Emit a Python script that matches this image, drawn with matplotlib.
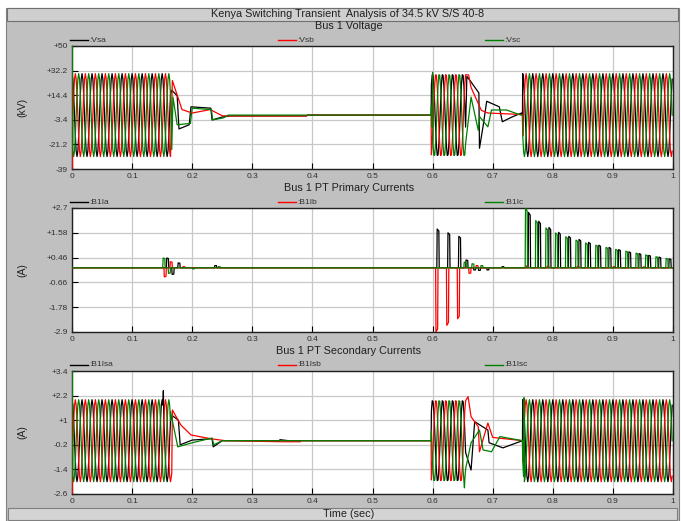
import numpy as np
import matplotlib.pyplot as plt
from matplotlib.patches import Rectangle
from matplotlib.lines import Line2D

plt.rcParams['font.family'] = ['Liberation Sans', 'DejaVu Sans']

W, H = 681, 521

# ---------------- values ----------------
f_sys = 60.0                          # Hz
phase_deg = [90.0, -30.0, 210.0]      # phase a, b, c
on_periods = [(0.0, 0.165), (0.598, 0.656), (0.75, 1.0)]
v_peak = 30.0      # kV, bus voltage
isec_peak = 2.0    # A, PT secondary current
dt = 1 / 720.0

colors = ['black', 'red', 'green']

# bus voltage: points after the first and second opening (time, kV)
v_trans1 = [
    [(0.166, 18), (0.175, 14), (0.178, -10), (0.195, -7), (0.198, 6), (0.231, 5),
     (0.233, -3.5), (0.25, -1.4), (0.262, -0.6), (0.39, -0.6), (0.392, 0)],
    [(0.167, 25), (0.183, 4), (0.2, 1.5), (0.23, 4), (0.25, -0.5), (0.26, -0.6),
     (0.39, -0.6), (0.392, 0)],
    [(0.166, -25), (0.168, 13), (0.175, -7), (0.197, -6), (0.2, 5), (0.232, 4),
     (0.234, -3.5), (0.252, -2), (0.26, 0)],
]
v_trans2 = [
    [(0.657, 28), (0.664, 24), (0.677, 16), (0.678, -24), (0.684, -8), (0.69, 10),
     (0.711, 6), (0.716, -4.8), (0.733, -1.2), (0.748, 1.5)],
    [(0.66, 29), (0.664, 20), (0.681, 3.5), (0.692, 1.5), (0.745, 0.5)],
    [(0.664, 13), (0.676, -11), (0.678, -1), (0.692, -8.5), (0.698, 3.7),
     (0.723, 3.7), (0.745, 0.3)],
]
v_spikes = [[], [(0.0, -39)], [(0.0, 50), (0.6, 31)]]

# PT secondary currents after the openings (time, A)
is_trans1 = [
    [(0.168, 1.2), (0.177, 1.0), (0.18, -0.2), (0.2, 0.03), (0.233, 0.1),
     (0.235, -0.3), (0.25, 0.0), (0.345, 0.0), (0.346, 0.05), (0.36, 0.0)],
    [(0.166, -1.6), (0.167, 1.5), (0.181, 0.77), (0.198, 0.28), (0.23, 0.1),
     (0.255, 0.0), (0.35, -0.05), (0.38, -0.05), (0.381, 0.0)],
    [(0.164, 1.4), (0.176, -0.3), (0.2, -0.1), (0.233, 0.13), (0.236, -0.2),
     (0.25, 0.0)],
]
is_trans2 = [
    [(0.664, -1.43), (0.67, 0.93), (0.692, 0.52), (0.694, -0.1), (0.717, -0.35),
     (0.74, -0.1)],
    [(0.659, 2.15), (0.664, 1.17), (0.676, 0.68), (0.678, -0.54), (0.692, 0.86),
     (0.7, 0.16)],
    [(0.664, -0.1), (0.678, 0.52), (0.684, -0.45), (0.698, -0.54), (0.712, 0.2)],
]
is_spikes = [[(0.152, 2.44)], [(0.0, -2.6)], [(0.0, 3.4), (0.653, -2.3), (0.752, 2.1)]]

# PT primary currents: pulse (time, peak A)
ip_pulses = [
    [(0.157, 0.44), (0.166, -0.3), (0.176, 0.22), (0.237, 0.1), (0.607, 1.75),
     (0.625, 1.58), (0.643, 1.42), (0.655, 0.35), (0.668, -0.1), (0.676, -0.12),
     (0.69, -0.1), (0.715, 0.05)],
    [(0.153, -0.41), (0.163, 0.27), (0.184, 0.05), (0.605, -2.9), (0.623, -2.6),
     (0.641, -2.3), (0.66, -0.25), (0.672, 0.1), (0.755, 0.08), (0.79, 0.06),
     (0.84, 0.05), (0.9, 0.05), (0.95, 0.04)],
    [(0.151, 0.44), (0.16, -0.25), (0.2, -0.05), (0.243, 0.05), (0.652, 0.25),
     (0.665, 0.18), (0.68, 0.1)],
]
inrush_t_c = [0.754, 0.771, 0.788, 0.804, 0.821, 0.838, 0.854, 0.871, 0.888,
              0.904, 0.921, 0.938, 0.954, 0.971, 0.988]
inrush_c = [2.70, 2.13, 1.80, 1.57, 1.40, 1.25, 1.12, 1.02, 0.92, 0.83, 0.75,
            0.66, 0.58, 0.50, 0.42]
inrush_t_a = [0.759, 0.776, 0.793, 0.809, 0.826, 0.843, 0.859, 0.876, 0.893,
              0.909, 0.926, 0.943, 0.959, 0.976, 0.993]
inrush_a = [2.50, 2.10, 1.82, 1.60, 1.42, 1.28, 1.15, 1.02, 0.92, 0.82, 0.72,
            0.64, 0.56, 0.48, 0.40]
ip_pulses[0] += list(zip(inrush_t_a, inrush_a))
ip_pulses[2] += list(zip(inrush_t_c, inrush_c))

panels = [
    dict(title='Bus 1 Voltage', ylabel='(kV)',
         names=[':Vsa', ':Vsb', ':Vsc'],
         yticks=[50, 32.2, 14.4, -3.4, -21.2, -39],
         ylabels=['+50', '+32.2', '+14.4', '-3.4', '-21.2', '-39'],
         top=46, bottom=169),
    dict(title='Bus 1 PT Primary Currents', ylabel='(A)',
         names=[':B1Ia', ':B1Ib', ':B1Ic'],
         yticks=[2.7, 1.58, 0.46, -0.66, -1.78, -2.9],
         ylabels=['+2.7', '+1.58', '+0.46', '-0.66', '-1.78', '-2.9'],
         top=208, bottom=332),
    dict(title='Bus 1 PT Secondary Currents', ylabel='(A)',
         names=[':B1Isa', ':B1Isb', ':B1Isc'],
         yticks=[3.4, 2.2, 1.0, -0.2, -1.4, -2.6],
         ylabels=['+3.4', '+2.2', '+1', '-0.2', '-1.4', '-2.6'],
         top=371, bottom=494),
]
xticks = [0, 0.1, 0.2, 0.3, 0.4, 0.5, 0.6, 0.7, 0.8, 0.9, 1.0]
xlabels = ['0', '0.1', '0.2', '0.3', '0.4', '0.5', '0.6', '0.7', '0.8', '0.9', '1']


def switching_wave(peak, ph, trans1, trans2, spikes):
    ts, ys = [], []
    trans = [trans1, trans2, []]
    for k, (t0, t1) in enumerate(on_periods):
        t = np.arange(t0, t1, dt)
        ts.append(t)
        ys.append(peak * np.sin(2 * np.pi * f_sys * t + np.radians(ph)))
        pts = trans[k]
        if pts:
            ts.append(np.array([p[0] for p in pts]))
            ys.append(np.array([p[1] for p in pts], dtype=float))
        if k + 1 < len(on_periods):
            ts.append(np.array([on_periods[k + 1][0] - 0.0005]))
            ys.append(np.array([0.0]))
    t = np.concatenate(ts)
    y = np.concatenate(ys)
    if spikes:
        t = np.concatenate([t, [s[0] for s in spikes]])
        y = np.concatenate([y, [s[1] for s in spikes]])
    order = np.argsort(t, kind='stable')
    return t[order], y[order]


def pulse_wave(pulses):
    t, y = [0.0], [0.0]
    for t0, a in sorted(pulses):
        t += [t0, t0 + 0.0006, t0 + 0.0034, t0 + 0.004]
        y += [0.0, a, a * 0.95, 0.0]
    t.append(1.0)
    y.append(0.0)
    return t, y


fig = plt.figure(figsize=(W / 100, H / 100), dpi=100)
fig.patch.set_facecolor('white')


def fx(x):
    return x / W


def fy(y):
    return 1 - y / H


# window background, title bar and bottom bar
fig.patches.append(Rectangle((fx(6), fy(521)), fx(673), 513 / H, transform=fig.transFigure,
                             facecolor='#c0c0c0', edgecolor='#808080', lw=0.8, zorder=-10))
fig.patches.append(Rectangle((fx(7), fy(21)), fx(671), 13 / H, transform=fig.transFigure,
                             facecolor='#cfcfcf', edgecolor='#707070', lw=0.8, zorder=-9))
fig.patches.append(Rectangle((fx(8), fy(520)), fx(669), 12 / H, transform=fig.transFigure,
                             facecolor='#d4d4d4', edgecolor='#808080', lw=0.8, zorder=-9))
fig.text(fx(348), fy(14), 'Kenya Switching Transient  Analysis of 34.5 kV S/S 40-8',
         ha='center', va='center', fontsize=7.8, color='#202020')
fig.text(fx(349), fy(514), 'Time (sec)', ha='center', va='center', fontsize=7.8,
         color='#202020')

legend_x = [70, 278, 485]
signals = []
for p in range(3):
    phase_series = []
    for k in range(3):
        if p == 0:
            phase_series.append(switching_wave(v_peak, phase_deg[k], v_trans1[k],
                                               v_trans2[k], v_spikes[k]))
        elif p == 1:
            phase_series.append(pulse_wave(ip_pulses[k]))
        else:
            phase_series.append(switching_wave(isec_peak, phase_deg[k], is_trans1[k],
                                               is_trans2[k], is_spikes[k]))
    signals.append(phase_series)

for p, cfg in enumerate(panels):
    top, bot = cfg['top'], cfg['bottom']
    ax = fig.add_axes([fx(72), fy(bot), fx(673 - 72), (bot - top) / H])
    ax.set_facecolor('white')
    for k in range(3):
        t, y = signals[p][k]
        ax.plot(t, y, color=colors[k], lw=0.9, zorder=3)
    ax.set_xlim(0, 1)
    ax.set_ylim(cfg['yticks'][-1], cfg['yticks'][0])
    ax.set_xticks(xticks)
    ax.set_xticklabels(xlabels)
    ax.set_yticks(cfg['yticks'])
    ax.set_yticklabels(cfg['ylabels'])
    ax.grid(True, color='#c8c8c8', lw=0.9, zorder=0)
    ax.set_axisbelow(True)
    ax.tick_params(direction='in', length=4, width=0.8, labelsize=6,
                   labelcolor='#303030', pad=3)
    for s in ax.spines.values():
        s.set_color('#202020')
        s.set_linewidth(1.0)
    fig.text(fx(22), fy((top + bot) / 2), cfg['ylabel'], rotation=90,
             ha='center', va='center', fontsize=7.5, color='#202020')
    fig.text(fx(349), fy(top - 20), cfg['title'], ha='center', va='center',
             fontsize=7.8, color='#202020')
    ly = top - 6
    for k in range(3):
        x0 = legend_x[k]
        fig.add_artist(Line2D([fx(x0), fx(x0 + 18)], [fy(ly), fy(ly)],
                              color=colors[k], lw=1.0))
        fig.text(fx(x0 + 19), fy(ly), cfg['names'][k], ha='left', va='center',
                 fontsize=6, color='#303030')

fig.savefig('out.png', dpi=100, facecolor=fig.get_facecolor())
